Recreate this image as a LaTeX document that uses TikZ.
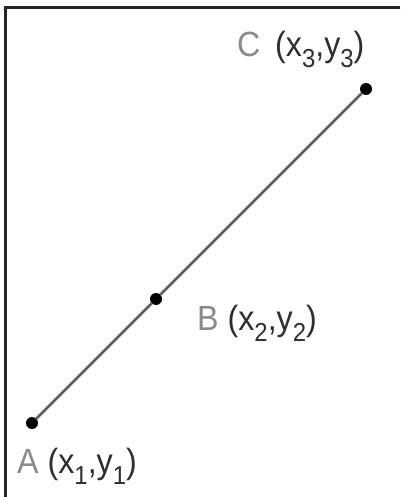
\documentclass[tikz,border=0pt]{standalone}
\usepackage{fontspec}
\setmainfont{Liberation Sans}
\newfontfamily\lblfont[FakeStretch=0.92]{Liberation Sans}
\usepackage{xcolor}
\definecolor{lineg}{HTML}{5F5F5F}
\definecolor{lblg}{HTML}{8A8A8A}
\definecolor{lbld}{HTML}{2E2E2E}
\newcommand\idx[1]{\raisebox{-11pt}{\fontsize{26}{26}\selectfont #1}}
\begin{document}
\begin{tikzpicture}[
    x=1pt,y=-1pt,
    ptdot/.style={circle,fill=black,inner sep=0pt,minimum size=12pt},
    coordlbl/.style={inner sep=0pt,anchor=base west,font=\lblfont\fontsize{35}{35}\selectfont,text=lbld},
    seg/.style={lineg,line width=2.8pt}
]
\useasboundingbox (0,0) rectangle (400,497);
% frame (only top and left edges show)
\draw[line width=3pt,black!85] (400,8) -- (5,8) -- (5,497);

\node[ptdot] (A) at (32,423) {};
\node[ptdot] (B) at (156,299) {};
\node[ptdot] (C) at (366,89) {};
\draw[seg] (A) -- (B) -- (C);

\node[coordlbl] (lA) at ([shift={(-15,50)}]A) {\textcolor{lblg}{A} (x\idx{1},y\idx{1})};
\node[coordlbl] (lB) at ([shift={(41,31)}]B) {\textcolor{lblg}{B} (x\idx{2},y\idx{2})};
\node[coordlbl] (lC) at ([shift={(-129,-32)}]C) {\textcolor{lblg}{C}\, (x\idx{3},y\idx{3})};
\end{tikzpicture}
\end{document}
